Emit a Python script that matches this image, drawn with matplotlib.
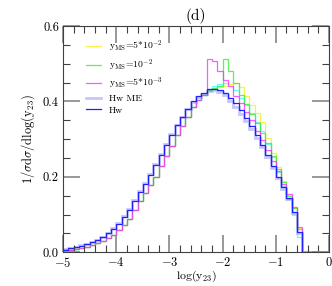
import matplotlib
matplotlib.use("Agg")
import matplotlib.pyplot as plt
import numpy as np
from matplotlib.ticker import MultipleLocator

plt.rcParams["font.family"] = "serif"
plt.rcParams["font.serif"] = ["cmr10", "DejaVu Serif"]
plt.rcParams["mathtext.fontset"] = "cm"
plt.rcParams["axes.formatter.use_mathtext"] = True

# bin edges in log(y23), 0.1 wide
edges = np.round(np.arange(-5.0, 0.001, 0.1), 2)

rise = [0.005, 0.007, 0.009, 0.012, 0.015, 0.019, 0.024, 0.030, 0.037, 0.047,
        0.059, 0.072, 0.088, 0.112, 0.135, 0.157, 0.178, 0.200, 0.228, 0.255,
        0.283, 0.310, 0.335, 0.360, 0.385, 0.405, 0.418]

hw = [0.007, 0.010, 0.013, 0.017, 0.021, 0.026, 0.032, 0.040, 0.050, 0.062,
      0.076, 0.093, 0.113, 0.136, 0.160, 0.182, 0.205, 0.232, 0.258, 0.285,
      0.312, 0.338, 0.360, 0.380, 0.400, 0.414, 0.422, 0.432, 0.434, 0.430,
      0.422, 0.410, 0.395, 0.377, 0.357, 0.335, 0.310, 0.285, 0.258, 0.228,
      0.200, 0.172, 0.143, 0.108, 0.054, 0, 0, 0, 0, 0]

hw_me = [0.008, 0.011, 0.014, 0.018, 0.022, 0.027, 0.033, 0.041, 0.051, 0.064,
         0.078, 0.095, 0.116, 0.138, 0.162, 0.184, 0.207, 0.234, 0.260, 0.287,
         0.314, 0.338, 0.360, 0.380, 0.398, 0.412, 0.420, 0.428, 0.430, 0.425,
         0.416, 0.402, 0.386, 0.368, 0.348, 0.326, 0.302, 0.278, 0.252, 0.224,
         0.197, 0.168, 0.140, 0.105, 0.052, 0, 0, 0, 0, 0]

y_5e2 = rise + [0.428, 0.434, 0.438,
                0.442, 0.446, 0.450, 0.438, 0.415, 0.390, 0.370, 0.345, 0.303, 0.263,
                0.226, 0.190, 0.153, 0.118, 0.065, 0, 0, 0, 0, 0]

y_1e2 = rise + [0.430, 0.436, 0.440,
                0.512, 0.481, 0.450, 0.418, 0.392, 0.368, 0.342, 0.316, 0.290, 0.256,
                0.220, 0.186, 0.150, 0.118, 0.062, 0, 0, 0, 0, 0]

y_5e3 = rise + [0.513, 0.506, 0.481,
                0.457, 0.440, 0.415, 0.395, 0.372, 0.350, 0.322, 0.298, 0.270, 0.243,
                0.215, 0.182, 0.155, 0.120, 0.067, 0, 0, 0, 0, 0]

extra = rise + [0.432, 0.440, 0.445,
                0.448, 0.445, 0.430, 0.410, 0.390, 0.370, 0.345, 0.322, 0.288, 0.252,
                0.213, 0.175, 0.140, 0.100, 0.040, 0, 0, 0, 0, 0]

fig = plt.figure(figsize=(3.32, 2.86), dpi=100)
ax = fig.add_axes([0.19, 0.118, 0.801, 0.791])

ax.stairs(extra, edges, color="#40ffff", lw=0.9, alpha=0.8)
ax.stairs(y_5e2, edges, color="#f0f020", lw=0.9, alpha=0.8,
          label=r"y$_{\rm MS}$=5*10$^{-2}$")
ax.stairs(y_1e2, edges, color="#30f030", lw=0.9, alpha=0.8,
          label=r"y$_{\rm MS}$=10$^{-2}$")
ax.stairs(y_5e3, edges, color="#ff30ff", lw=0.9, alpha=0.8,
          label=r"y$_{\rm MS}$=5*10$^{-3}$")
ax.stairs(hw_me, edges, color="#8080ff", lw=2.0, alpha=0.45, label="Hw ME")
ax.stairs(hw, edges, color="#2020ff", lw=0.9, label="Hw")

ax.set_xlim(-5, 0)
ax.set_ylim(0, 0.6)
ax.xaxis.set_major_locator(MultipleLocator(1))
ax.xaxis.set_minor_locator(MultipleLocator(0.2))
ax.yaxis.set_major_locator(MultipleLocator(0.2))
ax.yaxis.set_minor_locator(MultipleLocator(0.05))
ax.yaxis.set_major_formatter(matplotlib.ticker.FormatStrFormatter("%.1f"))
ax.tick_params(which="major", direction="in", length=12, width=1.3, color="#909090",
               top=True, right=True, labelsize=9, pad=3)
ax.tick_params(which="minor", direction="in", length=5, width=0.8, color="#404040",
               top=True, right=True)
for s in ax.spines.values():
    s.set_color("#404040")
    s.set_linewidth(0.8)

ax.set_xlabel(r"log(y$_{23}$)", fontsize=8.5, labelpad=-1)
ax.set_ylabel(r"1/$\sigma$d$\sigma$/dlog(y$_{23}$)", fontsize=9, labelpad=4)
ax.set_title("(d)", fontsize=11, pad=4)

ax.legend(loc="upper left", bbox_to_anchor=(0.07, 0.96), frameon=False, fontsize=7,
          handlelength=1.6, handletextpad=0.8, labelspacing=0.3, borderaxespad=0)

fig.savefig("out.png", dpi=100)
